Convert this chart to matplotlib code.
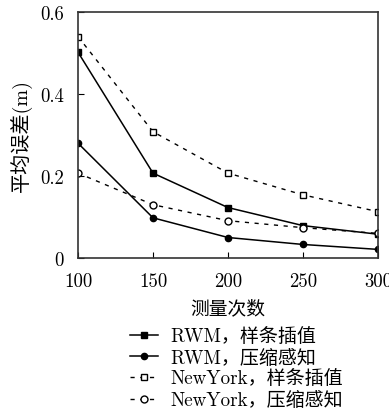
import matplotlib
matplotlib.use("Agg")
import matplotlib.pyplot as plt

plt.rcParams['font.family'] = ['cmr10', 'Noto Sans CJK SC']
plt.rcParams['axes.formatter.use_mathtext'] = True

x = [100, 150, 200, 250, 300]
rwm_spline = [0.502, 0.207, 0.123, 0.079, 0.058]
rwm_cs = [0.280, 0.098, 0.050, 0.033, 0.021]
ny_spline = [0.540, 0.308, 0.207, 0.154, 0.113]
ny_cs = [0.207, 0.130, 0.091, 0.074, 0.060]
labels = ["RWM，样条插值", "RWM，压缩感知", "NewYork，样条插值", "NewYork，压缩感知"]
xticks = [100, 150, 200, 250, 300]
yticks = [0, 0.2, 0.4, 0.6]
yticklabels = ["0", "0.2", "0.4", "0.6"]

fig = plt.figure(figsize=(3.89, 4.10), dpi=100)
ax = fig.add_axes([78/389, 1-259/410, 300/389, 246/410])

ax.plot(x, rwm_spline, '-', color='black', lw=1.1, marker='s', ms=4.5, mfc='black', label=labels[0])
ax.plot(x, rwm_cs, '-', color='black', lw=1.1, marker='o', ms=4.5, mfc='black', label=labels[1])
ax.plot(x, ny_spline, '--', color='black', lw=1.0, dashes=(3, 4), marker='s', ms=4.5, mfc='white', label=labels[2])
ax.plot(x, ny_cs, '--', color='black', lw=1.0, dashes=(3, 4), marker='o', ms=5, mfc='white', label=labels[3])

ax.set_xlim(100, 300)
ax.set_ylim(0, 0.6)
ax.set_xticks(xticks)
ax.set_xticklabels([str(v) for v in xticks])
ax.set_yticks(yticks)
ax.set_yticklabels(yticklabels)
ax.tick_params(direction='in', labelsize=13.5, length=4, pad=10)
for s in ax.spines.values():
    s.set_linewidth(1.2)
    s.set_color('#333333')

ax.set_xlabel("测量次数", fontsize=13.5, labelpad=7)
ax.set_ylabel("平均误差(m)", fontsize=14.5, labelpad=5)

fig.legend(loc='upper left', bbox_to_anchor=(130/389, 1-329/410), frameon=False,
           fontsize=13.7, handlelength=1.45, handletextpad=0.65, labelspacing=0.16,
           borderaxespad=0, borderpad=0)

fig.savefig("out.png", dpi=100)
